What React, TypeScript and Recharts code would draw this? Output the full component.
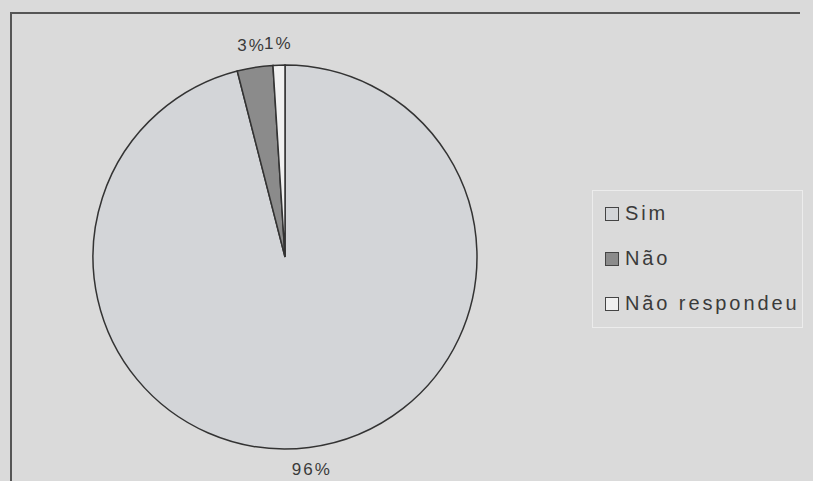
import React from 'react';
import { PieChart, Pie, Cell, Legend } from 'recharts';

const CATEGORIES = [`Sim`, `Não`, `Não respondeu`];
const VALUES = [96, 3, 1];
const COLORS = [`#d3d5d8`, `#8b8b8b`, `#f0f0f0`];

const data = CATEGORIES.map((name, i) => ({ name, value: VALUES[i] }));

const RADIAN = Math.PI / 180;
const FONT = `"Liberation Sans", Arial, sans-serif`;

const renderLabel = (props) => {
  const { cx, cy, midAngle, outerRadius, value } = props;
  const r = outerRadius + 22;
  const x = cx + r * Math.cos(-RADIAN * midAngle);
  const y = cy + r * Math.sin(-RADIAN * midAngle);
  return (
    <text
      x={x}
      y={y}
      textAnchor="middle"
      dominantBaseline="central"
      fill="#3a3a3a"
      fontSize={17}
      letterSpacing={2}
      fontFamily={FONT}
    >
      {`${value}%`}
    </text>
  );
};

const renderLegend = (props) => {
  // keep the order of the data, not the alphabetical one
  const payload = [...props.payload].sort(
    (a, b) => CATEGORIES.indexOf(a.value) - CATEGORIES.indexOf(b.value)
  );
  return (
    <div
      style={{
        width: 211,
        height: 138,
        border: `1px solid #ececec`,
        boxSizing: `border-box`,
        paddingTop: 0,
        paddingLeft: 12,
        fontFamily: FONT,
        fontSize: 20,
        letterSpacing: 2.9,
        color: `#3a3a3a`,
      }}
    >
      {payload.map((entry, i) => (
        <div key={`l-${i}`} style={{ display: `flex`, alignItems: `center`, height: 45 }}>
          <span
            style={{
              display: `inline-block`,
              width: 12,
              height: 12,
              border: `1.5px solid #444`,
              background: entry.color,
              marginRight: 6,
            }}
          />
          <span>{entry.value}</span>
        </div>
      ))}
    </div>
  );
};

const App: React.FC = () => {
  return (
    <div
      style={{
        position: `fixed`,
        left: 0,
        top: 0,
        width: 813,
        height: 481,
        background: `#dadada`,
        overflow: `hidden`,
      }}
    >
      <div style={{ position: `absolute`, left: 10, top: 12, width: 2, height: 469, background: `#555` }} />
      <div style={{ position: `absolute`, left: 10, top: 12, width: 790, height: 2, background: `#555` }} />
      <div style={{ position: `absolute`, left: 0, top: 0 }}>
        <PieChart width={813} height={481} margin={{ top: 0, right: 0, bottom: 0, left: 0 }}>
          <Pie
            data={data}
            dataKey="value"
            nameKey="name"
            cx={285}
            cy={257}
            outerRadius={192}
            startAngle={90}
            endAngle={-270}
            stroke="#333"
            strokeWidth={1.5}
            label={renderLabel}
            labelLine={false}
            isAnimationActive={false}
          >
            {data.map((d, i) => (
              <Cell key={`c-${i}`} fill={COLORS[i]} />
            ))}
          </Pie>
          <Legend
            layout="vertical"
            content={renderLegend}
            wrapperStyle={{ left: 592, top: 190, width: 211, height: 138 }}
          />
        </PieChart>
      </div>
    </div>
  );
};

export default App;
